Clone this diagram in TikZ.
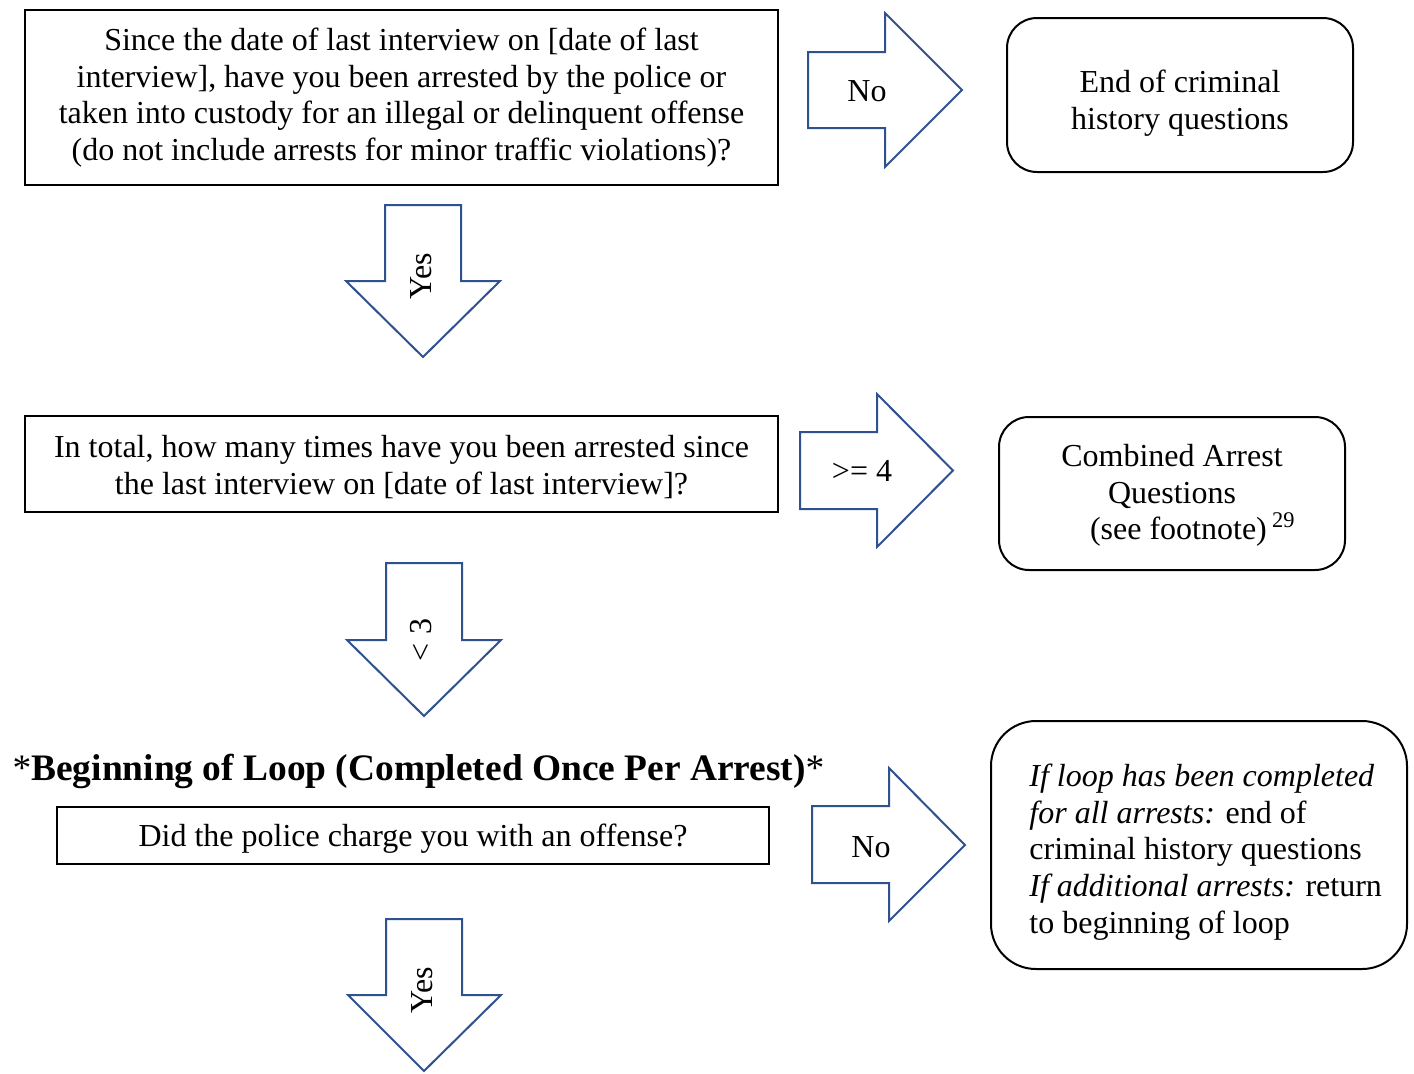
\documentclass[tikz,border=0pt]{standalone}
\usepackage{fontspec}
\setmainfont{Liberation Serif}
\definecolor{arrblue}{RGB}{47,82,143}
\begin{document}
\begin{tikzpicture}[x=0.5pt,y=-0.5pt,
  txt/.style={font=\fontsize{16}{18.35}\selectfont},
  qbox/.style={draw=black, line width=1pt, inner sep=0pt, align=center, txt},
  rbox/.style={qbox, rounded corners=#1},
  ttx/.style={txt, align=center, inner sep=0pt},
  blk/.style={draw=arrblue, line width=1pt, fill=white, line join=miter},
  lab/.style={txt, inner sep=0pt}]
\useasboundingbox (0,0) rectangle (1414,1073);

% boxes
\node[qbox, minimum width=376.5pt, minimum height=87.5pt] (q1) at (401.5,97.5)
  {Since the date of last interview on [date of last\\interview], have you been arrested by the police or\\taken into custody for an illegal or delinquent offense\\(do not include arrests for minor traffic violations)?};
\node[rbox=15pt, minimum width=173pt, minimum height=77pt] (end) at (1180,95) {};
\node[ttx] (endtxt) at (1180,103) {End of criminal\\history questions};
\node[qbox, minimum width=376.5pt, minimum height=48pt] (q2) at (401.5,464) {};
\node[ttx] (q2txt) at (401.5,467)
  {In total, how many times have you been arrested since\\the last interview on [date of last interview]?};
\node[rbox=15pt, minimum width=173pt, minimum height=76.5pt] (comb) at (1172,493.5) {};
\node[ttx] (combtxt) at (1172,495.5)
  {Combined Arrest\\Questions\\\hspace*{1.3em}(see footnote)\,\textsuperscript{29}};
\node[font=\bfseries\fontsize{18.7}{20}\selectfont, inner sep=0pt] (title) at (418.5,771)
  {\textmd{*}Beginning of Loop (Completed Once Per Arrest)\textmd{*}};
\node[qbox, minimum width=356pt, minimum height=28.5pt] (q3) at (413,835.5) {};
\node[ttx] (q3txt) at (413,839) {Did the police charge you with an offense?};
\node[rbox=22.5pt, minimum width=208pt, minimum height=124pt] (loop) at (1199,845) {};
\node[txt, align=left, inner sep=0pt, anchor=west] (looptxt) at (1029,852)
  {\textit{If loop has been completed}\\\textit{for all arrests:} end of\\criminal history questions\\\textit{If additional arrests:} return\\to beginning of loop};

% block arrows
\draw[blk] (808,52)--(885,52)--(885,13)--(962,90)--(885,167)--(885,128)--(808,128)--cycle;
\draw[blk] (800,432)--(877,432)--(877,394)--(953,470.5)--(877,547)--(877,509)--(800,509)--cycle;
\draw[blk] (812,806)--(889,806)--(889,768)--(965,845)--(889,921)--(889,883)--(812,883)--cycle;
\draw[blk] (385,205)--(461,205)--(461,281)--(500,281)--(423,357)--(346,281)--(385,281)--cycle;
\draw[blk] (386,563)--(462,563)--(462,640)--(501,640)--(424,716)--(347,640)--(386,640)--cycle;
\draw[blk] (386,919)--(462,919)--(462,995)--(501,995)--(424,1071)--(348,995)--(386,995)--cycle;

% arrow labels
\node[lab] (no1) at (867,91) {No};
\node[lab] (ge4) at (862,471) {>= 4};
\node[lab] (no2) at (871,847) {No};
\node[lab, rotate=90] (yes1) at (421,276) {Yes};
\node[lab, rotate=90] (lt3) at (421,640) {< 3};
\node[lab, rotate=90] (yes2) at (422,990) {Yes};
\end{tikzpicture}
\end{document}
